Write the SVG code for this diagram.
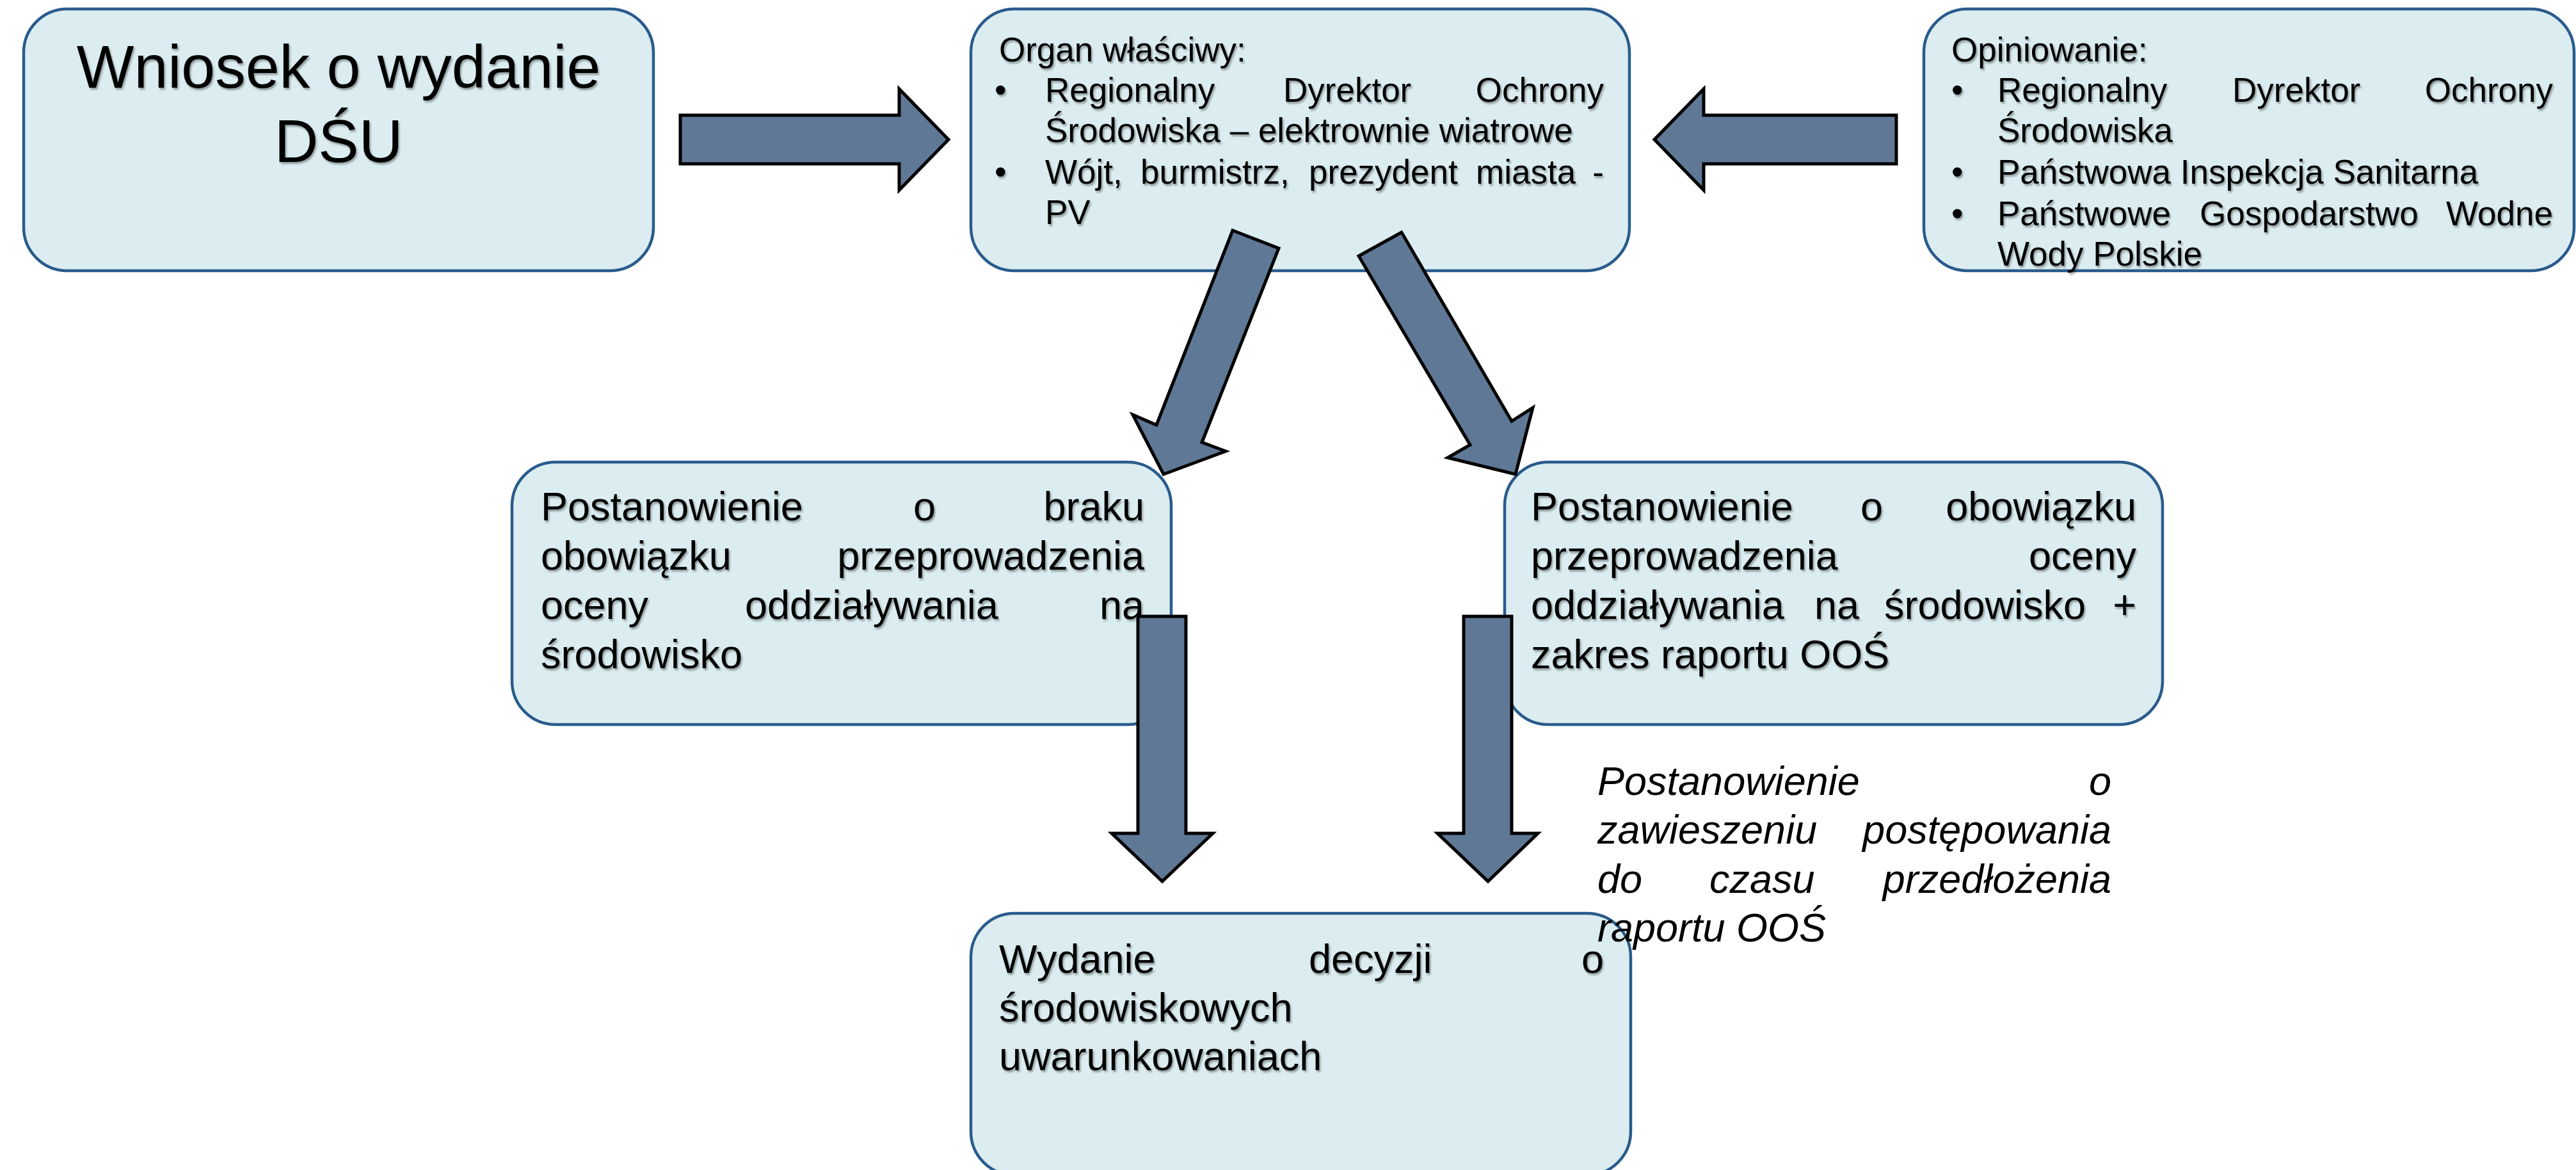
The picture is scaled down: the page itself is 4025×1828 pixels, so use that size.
<svg xmlns="http://www.w3.org/2000/svg" width="4025" height="1828" viewBox="0 0 4025 1828">
<defs>
<filter id="sh" x="-5%" y="-20%" width="110%" height="140%">
<feDropShadow dx="2" dy="3" stdDeviation="1.5" flood-color="#000" flood-opacity="0.35"/>
</filter>
</defs>
<style>
.box{fill:#dbedf0;stroke:#2a5b8c;stroke-width:4.5}
.arr{fill:#5f7896;stroke:#000;stroke-width:5;stroke-linejoin:miter}
text{font-family:"Liberation Sans",Arial,sans-serif;fill:#000}
.t95{font-size:95px}
.t53{font-size:53px}
.t63{font-size:63px}
.it{font-size:63px;font-style:italic}
.e{text-anchor:end}
.m{text-anchor:middle}
.s{filter:url(#sh)}
</style>
<rect width="4025" height="1828" fill="#fff"/>

<g id="node-wniosek">
<rect class="box" x="37" y="14" width="984" height="409" rx="68"/>
<g class="s">
<text class="t95 m" x="529" y="137">Wniosek o wydanie</text>
<text class="t95 m" x="529" y="253">DŚU</text>
</g>
</g>

<g id="node-organ">
<rect class="box" x="1517" y="14" width="1029" height="409" rx="68"/>
<g class="s t53">
<text class="t53" x="1561" y="96">Organ właściwy:</text>
<text class="t53" x="1554" y="159">•</text>
<text class="t53" x="1633" y="159">Regionalny</text>
<text class="t53" x="2005" y="159">Dyrektor</text>
<text class="t53 e" x="2506" y="159">Ochrony</text>
<text class="t53" x="1633" y="222">Środowiska – elektrownie wiatrowe</text>
<text class="t53" x="1554" y="287">•</text>
<text class="t53" x="1633" y="287">Wójt,</text>
<text class="t53" x="1782" y="287">burmistrz,</text>
<text class="t53" x="2045" y="287">prezydent</text>
<text class="t53" x="2306" y="287">miasta</text>
<text class="t53 e" x="2506" y="287">-</text>
<text class="t53" x="1633" y="350">PV</text>
</g>
</g>

<g id="node-opiniowanie">
<rect class="box" x="3006" y="14" width="1016" height="409" rx="68"/>
<g class="s">
<text class="t53" x="3049" y="96">Opiniowanie:</text>
<text class="t53" x="3049" y="159">•</text>
<text class="t53" x="3121" y="159">Regionalny</text>
<text class="t53" x="3488" y="159">Dyrektor</text>
<text class="t53 e" x="3989" y="159">Ochrony</text>
<text class="t53" x="3121" y="222">Środowiska</text>
<text class="t53" x="3049" y="287">•</text>
<text class="t53" x="3121" y="287">Państwowa Inspekcja Sanitarna</text>
<text class="t53" x="3049" y="352">•</text>
<text class="t53" x="3121" y="352">Państwowe</text>
<text class="t53" x="3437" y="352">Gospodarstwo</text>
<text class="t53 e" x="3989" y="352">Wodne</text>
<text class="t53" x="3121" y="415">Wody Polskie</text>
</g>
</g>

<g id="node-brak">
<rect class="box" x="800" y="722" width="1030" height="410" rx="68"/>
<g class="s">
<text class="t63" x="845" y="813">Postanowienie</text>
<text class="t63" x="1427" y="813">o</text>
<text class="t63 e" x="1788" y="813">braku</text>
<text class="t63" x="845" y="890">obowiązku</text>
<text class="t63 e" x="1788" y="890">przeprowadzenia</text>
<text class="t63" x="845" y="967">oceny</text>
<text class="t63" x="1164" y="967">oddziaływania</text>
<text class="t63 e" x="1788" y="967">na</text>
<text class="t63" x="845" y="1044">środowisko</text>
</g>
</g>

<g id="node-obowiazek">
<rect class="box" x="2351" y="722" width="1028" height="410" rx="68"/>
<g class="s">
<text class="t63" x="2392" y="813">Postanowienie</text>
<text class="t63" x="2907" y="813">o</text>
<text class="t63 e" x="3338" y="813">obowiązku</text>
<text class="t63" x="2392" y="890">przeprowadzenia</text>
<text class="t63 e" x="3338" y="890">oceny</text>
<text class="t63" x="2392" y="967">oddziaływania</text>
<text class="t63" x="2835" y="967">na</text>
<text class="t63" x="2944" y="967">środowisko</text>
<text class="t63 e" x="3338" y="967">+</text>
<text class="t63" x="2392" y="1044">zakres raportu OOŚ</text>
</g>
</g>

<g id="node-decyzja">
<rect class="box" x="1517" y="1427" width="1031" height="409" rx="68"/>
<g class="s">
<text class="t63" x="1561" y="1520">Wydanie</text>
<text class="t63" x="2045" y="1520">decyzji</text>
<text class="t63 e" x="2506" y="1520">o</text>
<text class="t63" x="1561" y="1596">środowiskowych</text>
<text class="t63" x="1561" y="1672">uwarunkowaniach</text>
</g>
</g>

<g id="node-zawieszenie">
<text class="it" x="2496" y="1242">Postanowienie</text>
<text class="it e" x="3299" y="1242">o</text>
<text class="it" x="2496" y="1318">zawieszeniu</text>
<text class="it e" x="3299" y="1318">postępowania</text>
<text class="it" x="2496" y="1395">do</text>
<text class="it" x="2671" y="1395">czasu</text>
<text class="it e" x="3299" y="1395">przedłożenia</text>
<text class="it" x="2496" y="1471">raportu OOŚ</text>
</g>

<g id="connectors">
<polygon class="arr" points="1063,180 1405,180 1405,139 1482,218 1405,297 1405,256 1063,256"/>
<polygon class="arr" points="2963,180 2662,180 2662,139 2585,218 2662,297 2662,256 2963,256"/>
<polygon class="arr" points="1926,360 1998,388 1878,691 1915,705 1818,741 1770,648 1807,664"/>
<polygon class="arr" points="2190,363 2123,400 2297,695 2262,715 2368,741 2395,637 2362,658"/>
<polygon class="arr" points="1778,963 1853,963 1853,1302 1895,1302 1816,1377 1737,1302 1778,1302"/>
<polygon class="arr" points="2287,963 2362,963 2362,1302 2403,1302 2325,1377 2246,1302 2287,1302"/>
</g>
</svg>
